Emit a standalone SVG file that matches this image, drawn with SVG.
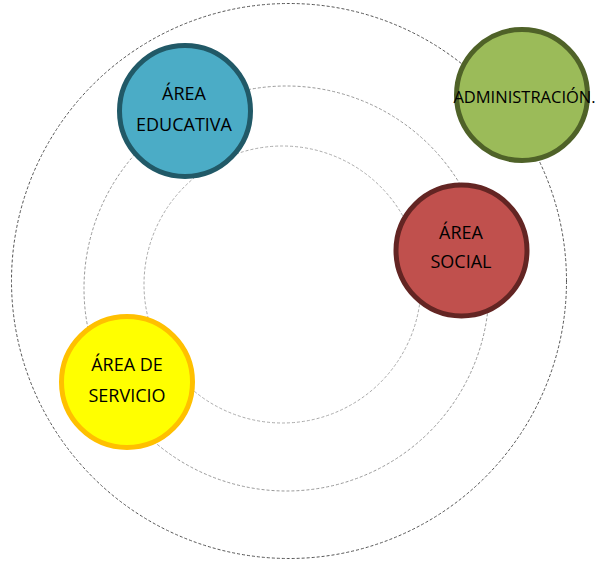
<svg xmlns="http://www.w3.org/2000/svg" width="597" height="562" viewBox="0 0 597 562">
<style>
.ring{fill:none;stroke-width:1;stroke-dasharray:3 2}
.node{stroke-width:5}
.lbl{font-family:"Open Sans","Noto Sans",sans-serif;font-size:18px;fill:#000;text-anchor:middle}
</style>
<rect width="597" height="562" fill="#fff"/>
<g id="connectors">
<circle class="ring" cx="289" cy="281" r="277.5" stroke="#555"/>
<circle class="ring" cx="286.5" cy="288.5" r="202.5" stroke="#999"/>
<circle class="ring" cx="282.5" cy="284.5" r="138.5" stroke="#aaa"/>
</g>
<g id="educativa">
<circle class="node" cx="185" cy="111" r="65.5" fill="#4BACC6" stroke="#215967"/>
<text class="lbl" x="184" y="100">ÁREA</text>
<text class="lbl" x="184" y="131">EDUCATIVA</text>
</g>
<g id="administracion">
<circle class="node" cx="522" cy="95" r="65.5" fill="#9BBB59" stroke="#4F6228"/>
<text class="lbl" x="524.5" y="103" style="font-size:16.5px">ADMINISTRACIÓN.</text>
</g>
<g id="social">
<circle class="node" cx="461.5" cy="250.5" r="65.5" fill="#C0504D" stroke="#632523"/>
<text class="lbl" x="461" y="239">ÁREA</text>
<text class="lbl" x="461" y="268">SOCIAL</text>
</g>
<g id="servicio">
<circle class="node" cx="127" cy="382" r="65.5" fill="#FFFF00" stroke="#FFC000"/>
<text class="lbl" x="127" y="371">ÁREA DE</text>
<text class="lbl" x="127" y="402">SERVICIO</text>
</g>
</svg>
